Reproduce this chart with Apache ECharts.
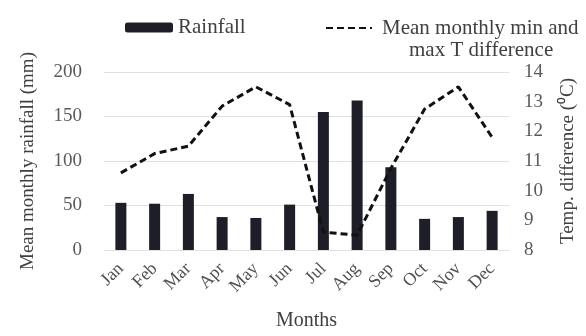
<!DOCTYPE html>
<html><head><meta charset="utf-8">
<script src="https://cdn.jsdelivr.net/npm/echarts@6/dist/echarts.min.js"></script>
<style>html,body{margin:0;padding:0;background:#fff}#c{width:586px;height:336px}</style>
</head><body><div id="c"></div>
<script>
const months = ['Jan','Feb','Mar','Apr','May','Jun','Jul','Aug','Sep','Oct','Nov','Dec'];
const rainfall = [53, 52, 63, 37, 36, 51, 155, 168, 93, 35, 37, 44];
const tempDiff = [10.6, 11.25, 11.5, 12.85, 13.5, 12.9, 8.6, 8.5, 10.75, 12.75, 13.5, 11.8];
const rainTicks = [0, 50, 100, 150, 200];
const tempTicks = [8, 9, 10, 11, 12, 13, 14];

const FONT = 'Liberation Serif';
const chart = echarts.init(document.getElementById('c'), null, {renderer: 'canvas'});
chart.setOption({
  animation: false,
  backgroundColor: '#fff',
  textStyle: {fontFamily: FONT},
  grid: {left: 104, right: 73, top: 72, bottom: 81},
  legend: [
    {data: ['Rainfall'], left: 120, top: 12, itemWidth: 48, itemHeight: 10, itemGap: 5,
     textStyle: {fontFamily: FONT, fontSize: 21, color: '#404040'}},
    {data: ['Mean monthly min and max T difference'], left: 320, top: -10, itemWidth: 46, itemHeight: 14,
     itemStyle: {opacity: 0},
     textStyle: {fontFamily: FONT, fontSize: 21, color: '#404040', lineHeight: 22,
       rich: {a: {fontFamily: FONT, fontSize: 21, color: '#404040', lineHeight: 22, padding: [0,0,0,5]},
              b: {fontFamily: FONT, fontSize: 21, color: '#404040', lineHeight: 22, padding: [0,0,0,32]}}},
     formatter: function () { return ' \n{a|Mean monthly min and}\n{b|max T difference}'; }}
  ],
  xAxis: {
    type: 'category', data: months, boundaryGap: true,
    name: 'Months', nameLocation: 'middle', nameGap: 61,
    nameTextStyle: {fontFamily: FONT, fontSize: 20, color: '#404040'},
    axisLine: {show: false}, axisTick: {show: false},
    axisLabel: {rotate: 45, interval: 0, margin: 16, fontFamily: FONT, fontSize: 18, color: '#505050'}
  },
  yAxis: [
    {type: 'value', min: rainTicks[0], max: rainTicks[rainTicks.length-1], interval: 50,
     name: 'Mean monthly rainfall (mm)', nameLocation: 'middle', nameGap: 66,
     nameTextStyle: {fontFamily: FONT, fontSize: 19, color: '#404040'},
     axisLine: {show: false}, axisTick: {show: false},
     axisLabel: {margin: 22, fontFamily: FONT, fontSize: 19, color: '#595959'},
     splitLine: {lineStyle: {color: '#e0e0e0', width: 1}}},
    {type: 'value', min: tempTicks[0], max: tempTicks[tempTicks.length-1], interval: 1,
     name: 'Temp. difference (\u2070C)', nameLocation: 'middle', nameGap: 50,
     nameTextStyle: {fontFamily: FONT, fontSize: 19, color: '#404040'},
     axisLine: {show: false}, axisTick: {show: false},
     axisLabel: {margin: 15, fontFamily: FONT, fontSize: 19, color: '#595959'},
     splitLine: {show: false}}
  ],
  series: [
    {name: 'Rainfall', type: 'bar', yAxisIndex: 0, data: rainfall, barWidth: 11,
     itemStyle: {color: '#1e1e28'}},
    {name: 'Mean monthly min and max T difference', type: 'line', yAxisIndex: 1, data: tempDiff,
     symbol: 'none', lineStyle: {color: '#111', width: 3, type: [7, 4]}, itemStyle: {color: '#111'}}
  ]
});
</script></body></html>
